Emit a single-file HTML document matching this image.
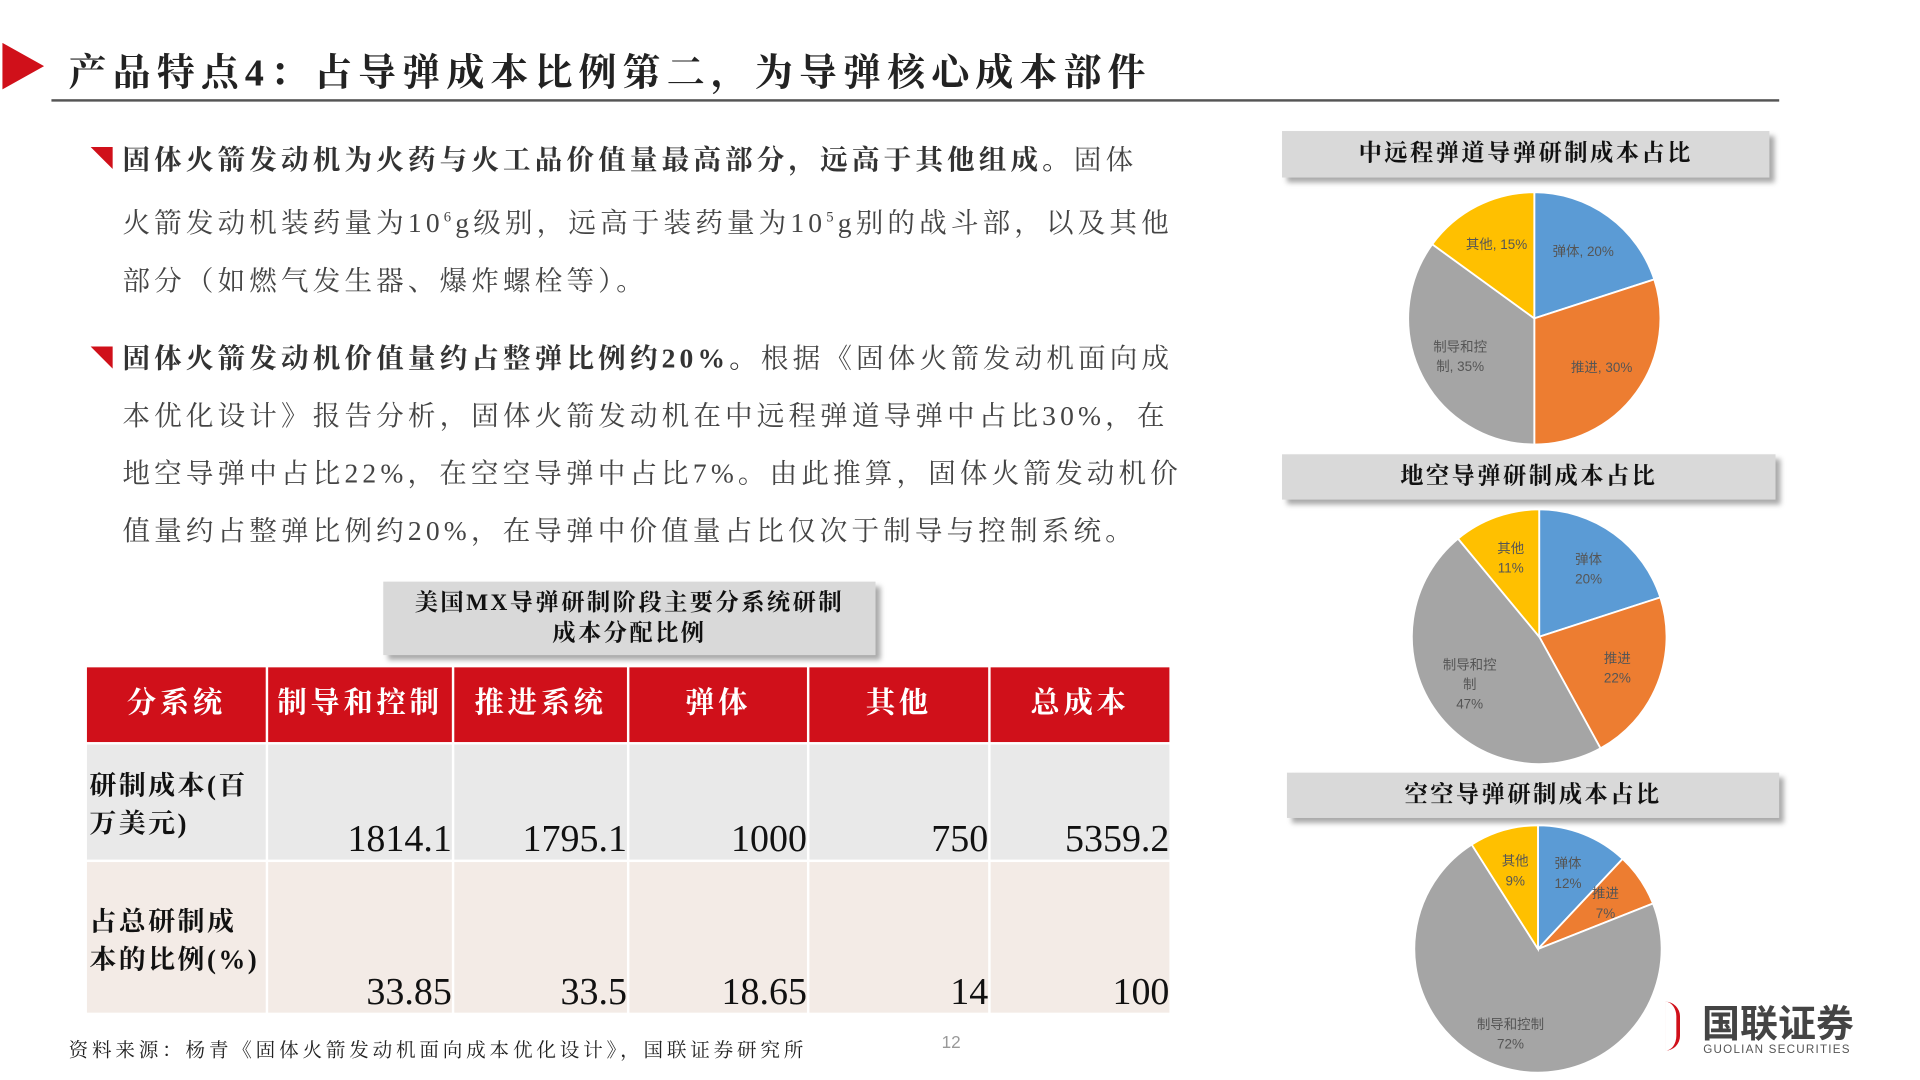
<!DOCTYPE html>
<html><head><meta charset="utf-8">
<style>
html,body{margin:0;padding:0;background:#fff;width:1920px;height:1080px;overflow:hidden}
#stage{position:absolute;left:0;top:0;width:1568px;height:882px;transform-origin:0 0;transform:scale(1.2245,1.2245);font-family:"Liberation Serif","Noto Serif CJK SC",serif;color:#333}
.abs{position:absolute}
.para{position:absolute;left:100px;font-size:22.5px;line-height:47px;color:#444;letter-spacing:3.4px;white-space:nowrap}
.para b{color:#333}
.tri{position:absolute;width:0;height:0;border-top:18px solid #d0101a;border-left:18px solid transparent}
.box{position:absolute;background:#d9d9d9;box-shadow:4px 4px 4px #aaa;text-align:center;font-weight:bold;color:#111;letter-spacing:2px}
.cell{position:absolute;box-sizing:border-box}
.hd{background:#d0101a;color:#fff;font-size:24px;font-weight:bold;letter-spacing:3px;text-align:center;line-height:61px}
.g1{background:#e9e9e9}
.g2{background:#f3ebe6}
.num{text-align:right;font-size:31px;color:#111;font-family:"Liberation Serif",serif;line-height:31px}
.lab{font-size:22px;font-weight:bold;color:#111;line-height:31px;padding-left:2px;letter-spacing:2px}
</style></head><body>
<div id="stage">
  <div class="abs" style="left:2px;top:35px;width:0;height:0;border-top:19px solid transparent;border-bottom:19px solid transparent;border-left:34px solid #d0101a"></div>
  <div class="abs" style="left:56px;top:34px;font-size:31px;font-weight:bold;color:#222;letter-spacing:5px;white-space:nowrap">产品特点4：占导弹成本比例第二，为导弹核心成本部件</div>
  <div class="abs" style="left:42px;top:81px;width:1411px;height:2px;background:#555"></div>

  <div class="tri" style="left:74px;top:120px"></div>
  <div class="para" style="top:107px"><b>固体火箭发动机为火药与火工品价值量最高部分，远高于其他组成。</b>固体<br>火箭发动机装药量为10<sup style="font-size:12px">6</sup>g级别，远高于装药量为10<sup style="font-size:12px">5</sup>g别的战斗部，以及其他<br>部分（如燃气发生器、爆炸螺栓等）。</div>
  <div class="tri" style="left:74px;top:283px"></div>
  <div class="para" style="top:269px"><b>固体火箭发动机价值量约占整弹比例约20%。</b>根据《固体火箭发动机面向成<br>本优化设计》报告分析，固体火箭发动机在中远程弹道导弹中占比30%，在<br>地空导弹中占比22%，在空空导弹中占比7%。由此推算，固体火箭发动机价<br>值量约占整弹比例约20%，在导弹中价值量占比仅次于制导与控制系统。</div>

  <div class="box" style="left:313px;top:475px;width:402px;height:60px;font-size:19px;line-height:25px;padding-top:5px;box-sizing:border-box">美国MX导弹研制阶段主要分系统研制<br>成本分配比例</div>

  <div id="tbl">
    <div class="cell hd" style="left:71px;top:545px;width:146px;height:61px">分系统</div>
    <div class="cell hd" style="left:219px;top:545px;width:150px;height:61px">制导和控制</div>
    <div class="cell hd" style="left:371px;top:545px;width:141px;height:61px">推进系统</div>
    <div class="cell hd" style="left:514px;top:545px;width:145px;height:61px">弹体</div>
    <div class="cell hd" style="left:661px;top:545px;width:146px;height:61px">其他</div>
    <div class="cell hd" style="left:809px;top:545px;width:146px;height:61px">总成本</div>

    <div class="cell g1 lab" style="left:71px;top:608px;width:146px;height:94px;padding-top:18px">研制成本(百<br>万美元)</div>
    <div class="cell g1 num" style="left:219px;top:608px;width:150px;height:94px;padding-top:61px">1814.1</div>
    <div class="cell g1 num" style="left:371px;top:608px;width:141px;height:94px;padding-top:61px">1795.1</div>
    <div class="cell g1 num" style="left:514px;top:608px;width:145px;height:94px;padding-top:61px">1000</div>
    <div class="cell g1 num" style="left:661px;top:608px;width:146px;height:94px;padding-top:61px">750</div>
    <div class="cell g1 num" style="left:809px;top:608px;width:146px;height:94px;padding-top:61px">5359.2</div>

    <div class="cell g2 lab" style="left:71px;top:704px;width:146px;height:123px;padding-top:33px">占总研制成<br>本的比例(%)</div>
    <div class="cell g2 num" style="left:219px;top:704px;width:150px;height:123px;padding-top:90px">33.85</div>
    <div class="cell g2 num" style="left:371px;top:704px;width:141px;height:123px;padding-top:90px">33.5</div>
    <div class="cell g2 num" style="left:514px;top:704px;width:145px;height:123px;padding-top:90px">18.65</div>
    <div class="cell g2 num" style="left:661px;top:704px;width:146px;height:123px;padding-top:90px">14</div>
    <div class="cell g2 num" style="left:809px;top:704px;width:146px;height:123px;padding-top:90px">100</div>
  </div>

  <div class="abs" style="left:56px;top:845px;font-size:16px;color:#222;letter-spacing:3.1px;white-space:nowrap">资料来源：杨青《固体火箭发动机面向成本优化设计》，国联证券研究所</div>
  <div class="abs" style="left:769px;top:843px;font-size:14px;color:#999;font-family:'Liberation Sans',sans-serif">12</div>

  <div class="box" style="left:1047px;top:107px;width:398px;height:38px;line-height:38px;font-size:19px">中远程弹道导弹研制成本占比</div>
  <div class="box" style="left:1047px;top:371px;width:403px;height:37px;line-height:37px;font-size:19px">地空导弹研制成本占比</div>
  <div class="box" style="left:1051px;top:631px;width:402px;height:37px;line-height:37px;font-size:19px">空空导弹研制成本占比</div>

  <svg id="pies" class="abs" style="left:0;top:0" width="1568" height="882"></svg>

  <div class="abs" style="left:1360px;top:818px;width:9px;height:40px;border-right:3px solid #d0101a;border-radius:0 20px 20px 0"></div>
  <div class="abs" style="left:1390px;top:820px;font-size:31px;font-weight:bold;color:#444;font-family:'Liberation Sans','Noto Sans CJK SC',sans-serif;line-height:34px">国联证券</div>
  <div class="abs" style="left:1391px;top:853px;font-size:9.5px;color:#555;letter-spacing:1px;font-family:'Liberation Sans',sans-serif;line-height:10px">GUOLIAN SECURITIES</div>
</div>
<script>
const categories = ["弹体","推进","制导和控制","其他"];
const pie1Values = [20,30,35,15];
const pie2Values = [20,22,47,11];
const pie3Values = [12,7,72,9];
const colors = ["#5b9bd5","#ed7d31","#a5a5a5","#ffc000"];
const pies = [
  {vals:pie1Values, cx:1253, cy:260, r:103, name:"pie-midrange", inline:true},
  {vals:pie2Values, cx:1257, cy:520, r:104, name:"pie-surface-to-air", inline:false},
  {vals:pie3Values, cx:1256, cy:775, r:101, name:"pie-air-to-air", inline:false}
];
const svg = document.getElementById('pies');
const NS = "http://www.w3.org/2000/svg";
pies.forEach(p => {
  const g = document.createElementNS(NS,'g');
  
  
  svg.appendChild(g);
  const total = p.vals.reduce((a,b)=>a+b,0);
  let acc = 0;
  p.vals.forEach((v,i) => {
    const a0 = acc/total*2*Math.PI; acc += v;
    const a1 = acc/total*2*Math.PI;
    const x0 = p.cx + p.r*Math.sin(a0), y0 = p.cy - p.r*Math.cos(a0);
    const x1 = p.cx + p.r*Math.sin(a1), y1 = p.cy - p.r*Math.cos(a1);
    const large = (a1-a0) > Math.PI ? 1 : 0;
    const path = document.createElementNS(NS,'path');
    path.setAttribute('d', `M${p.cx},${p.cy} L${x0},${y0} A${p.r},${p.r} 0 ${large} 1 ${x1},${y1} Z`);
    path.setAttribute('fill', colors[i]);
    path.setAttribute('stroke', '#fff');
    path.setAttribute('stroke-width', '1.5');
    
    
    g.appendChild(path);
    const am = (a0+a1)/2;
    const lr = p.r*(v > 60 ? 0.72 : 0.66);
    const tx = p.cx + lr*Math.sin(am), ty = p.cy - lr*Math.cos(am);
    let lines;
    if (p.inline) lines = (categories[i] === "制导和控制") ? ["制导和控", "制, " + v + "%"] : [categories[i] + ", " + v + "%"];
    else lines = (categories[i] === "制导和控制" && v < 60) ? ["制导和控", "制", v + "%"] : [categories[i], v + "%"];
    const t = document.createElementNS(NS,'text');
    t.setAttribute('text-anchor','middle');
    t.setAttribute('font-size','11');
    t.setAttribute('fill','#555');
    t.setAttribute('font-family','"Liberation Sans","Noto Sans CJK SC",sans-serif');
    
    
    const lh = 16;
    lines.forEach((ln, k) => {
      const s = document.createElementNS(NS,'tspan');
      s.setAttribute('x', tx);
      s.setAttribute('y', ty + 4 + (k - (lines.length-1)/2)*lh);
      s.textContent = ln;
      t.appendChild(s);
    });
    g.appendChild(t);
  });
});
</script>
</body></html>
